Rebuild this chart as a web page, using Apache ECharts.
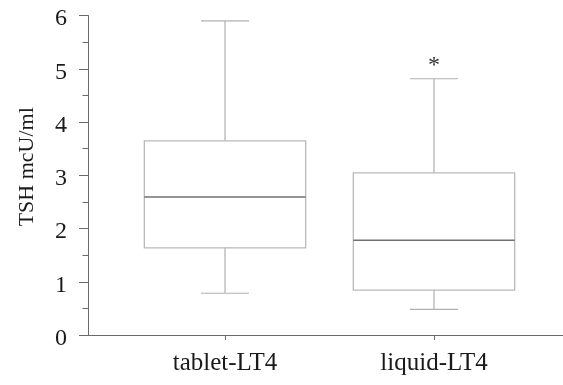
<!DOCTYPE html>
<html>
<head>
<meta charset="utf-8">
<script src="https://cdn.jsdelivr.net/npm/echarts@6/dist/echarts.min.js"></script>
<style>html,body{margin:0;padding:0;background:#fff;}#c{width:563px;height:385px;}</style>
</head>
<body>
<div id="c"></div>
<script>
// Data: [min, Q1, median, Q3, max] for each group
var categories = ['tablet-LT4', 'liquid-LT4'];
var whiskerLow = [0.78, 0.48];
var q1 = [1.63, 0.84];
var median = [2.58, 1.77];
var q3 = [3.63, 3.03];
var whiskerHigh = [5.87, 4.79];
var significance = ['', '*'];
var yTicks = [0, 1, 2, 3, 4, 5, 6];
var yName = 'TSH mcU/ml';

var FONT = '"Liberation Serif", "Times New Roman", serif';
var boxData = categories.map(function (c, i) {
  return [i, whiskerLow[i], q1[i], median[i], q3[i], whiskerHigh[i]];
});

var chart = echarts.init(document.getElementById('c'), null, {renderer: 'canvas'});
chart.setOption({
  animation: false,
  backgroundColor: '#fff',
  grid: [
    {left: 88, top: 14, right: 0, bottom: 50},
    {left: 120.5, top: 14, width: 418, bottom: 50}
  ],
  xAxis: [
    {gridIndex: 0, type: 'value', min: 0, max: 1,
      axisLine: {show: true, lineStyle: {color: '#6a6a6a', width: 1}},
      axisTick: {show: false}, axisLabel: {show: false}, splitLine: {show: false}},
    {gridIndex: 1, type: 'category', data: categories,
      axisLine: {show: false},
      axisTick: {show: true, alignWithLabel: true, length: 5, lineStyle: {color: '#6a6a6a'}},
      axisLabel: {margin: 16, fontFamily: FONT, fontSize: 25, color: '#1a1a1a'},
      splitLine: {show: false}}
  ],
  yAxis: [
    {gridIndex: 0, type: 'value', min: yTicks[0], max: yTicks[yTicks.length - 1], interval: 1,
      name: yName, nameLocation: 'middle', nameGap: 50,
      nameTextStyle: {fontFamily: FONT, fontSize: 22, color: '#1a1a1a', padding: [0, 0, 0, 17]},
      axisLine: {show: true, lineStyle: {color: '#6a6a6a', width: 1}},
      axisTick: {show: true, length: 9, lineStyle: {color: '#6a6a6a'}},
      minorTick: {show: true, splitNumber: 2, length: 5.5, lineStyle: {color: '#6a6a6a'}},
      axisLabel: {margin: 21, fontFamily: FONT, fontSize: 24, color: '#1a1a1a', lineHeight: 7,
        formatter: function (v) { return '\n' + v; }},
      splitLine: {show: false}},
    {gridIndex: 1, type: 'value', min: yTicks[0], max: yTicks[yTicks.length - 1], show: false}
  ],
  series: [{
    type: 'custom',
    xAxisIndex: 1, yAxisIndex: 1,
    data: boxData,
    encode: {x: 0, y: [1, 2, 3, 4, 5]},
    renderItem: function (params, api) {
      var idx = api.value(0);
      var band = api.size([1, 0])[0];
      var boxW = band * 0.772;
      var capW = band * 0.23;
      var pLow = api.coord([idx, api.value(1)]);
      var pQ1 = api.coord([idx, api.value(2)]);
      var pMed = api.coord([idx, api.value(3)]);
      var pQ3 = api.coord([idx, api.value(4)]);
      var pHigh = api.coord([idx, api.value(5)]);
      var cx = pQ1[0];
      var boxStroke = {stroke: '#b9b9b9', lineWidth: 1.3, fill: null};
      var whiskStroke = {stroke: '#b0b0b0', lineWidth: 1.2};
      var children = [
        {type: 'line', shape: {x1: cx, y1: pQ3[1], x2: cx, y2: pHigh[1]}, style: whiskStroke},
        {type: 'line', shape: {x1: cx - capW / 2, y1: pHigh[1], x2: cx + capW / 2, y2: pHigh[1]}, style: whiskStroke},
        {type: 'line', shape: {x1: cx, y1: pQ1[1], x2: cx, y2: pLow[1]}, style: whiskStroke},
        {type: 'line', shape: {x1: cx - capW / 2, y1: pLow[1], x2: cx + capW / 2, y2: pLow[1]}, style: whiskStroke},
        {type: 'rect', shape: {x: cx - boxW / 2, y: pQ3[1], width: boxW, height: pQ1[1] - pQ3[1]}, style: boxStroke},
        {type: 'line', shape: {x1: cx - boxW / 2, y1: pMed[1], x2: cx + boxW / 2, y2: pMed[1]}, style: {stroke: '#707070', lineWidth: 1.6}}
      ];
      var sig = significance[params.dataIndex];
      if (sig) {
        children.push({type: 'text', style: {text: sig, x: cx, y: pHigh[1] - 1, align: 'center', verticalAlign: 'bottom',
          fontFamily: FONT, fontSize: 24, fill: '#333'}});
      }
      return {type: 'group', children: children};
    }
  }]
});
</script>
</body>
</html>
